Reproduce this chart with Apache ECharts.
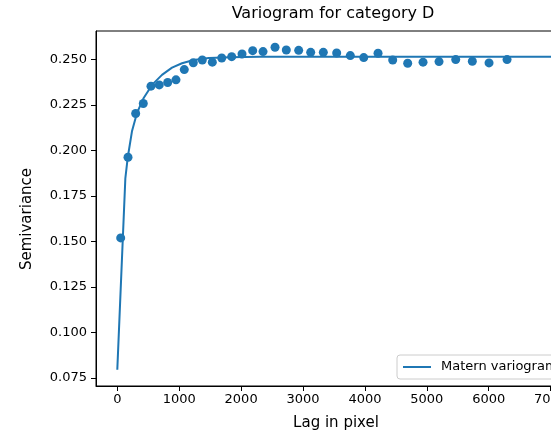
<!DOCTYPE html>
<html>
<head>
<meta charset="utf-8">
<script src="https://cdn.jsdelivr.net/npm/echarts@6/dist/echarts.min.js"></script>
<style>
  html, body { margin: 0; padding: 0; background: #fff; }
  #chart { width: 551px; height: 430px; }
</style>
</head>
<body>
<div id="chart"></div>
<script>
// Empirical semivariance per lag bin
const lagValues = [55, 173, 297, 420, 544, 678, 814, 948, 1082, 1228, 1373, 1535, 1687, 1848,
  2015, 2187, 2354, 2548, 2730, 2930, 3124, 3328, 3544, 3764, 3981, 4212, 4449, 4691, 4939,
  5197, 5467, 5735, 6005, 6296];
const semivariance = [0.1519, 0.1962, 0.2202, 0.2257, 0.2352, 0.2359, 0.2372, 0.2387, 0.2443,
  0.2481, 0.2496, 0.2484, 0.2507, 0.2514, 0.2529, 0.2547, 0.2542, 0.2566, 0.2551, 0.2549,
  0.2538, 0.2538, 0.2534, 0.2520, 0.2509, 0.2533, 0.2496, 0.2478, 0.2484, 0.2487, 0.2498,
  0.2489, 0.2480, 0.2498];

// Fitted Matern model curve
const modelLag = [0, 130, 168, 237, 318, 426, 561, 722, 884, 1045, 1234, 1477, 1821, 2305, 7200];
const modelValue = [0.0795, 0.1846, 0.1959, 0.2104, 0.2205, 0.2287, 0.2359, 0.2414, 0.2454,
  0.2478, 0.2496, 0.2507, 0.2511, 0.2513, 0.2513];

// Tick labels
const xTicks = [0, 1000, 2000, 3000, 4000, 5000, 6000, 7000];
const yTicks = [0.075, 0.100, 0.125, 0.150, 0.175, 0.200, 0.225, 0.250];

const BLUE = '#1f77b4';
const FONT = 'DejaVu Sans';

const chart = echarts.init(document.getElementById('chart'), null, { renderer: 'canvas' });

chart.setOption({
  animation: false,
  backgroundColor: '#fff',
  title: {
    text: 'Variogram for category D',
    left: 333,
    textAlign: 'center',
    top: 6,
    padding: 0,
    textStyle: { fontFamily: FONT, fontSize: 16, fontWeight: 'normal', color: '#000' }
  },
  grid: {
    left: 96, top: 31, width: 468.5, height: 355,
    outerBoundsMode: 'none',
    containLabel: false,
    show: true, borderColor: '#000', borderWidth: 1, backgroundColor: 'transparent'
  },
  legend: {
    data: [{ name: 'Matern variogram', icon: 'rect' }],
    left: 397, top: 355,
    padding: [5, 6, 5, 6],
    itemWidth: 28, itemHeight: 2,
    itemStyle: { color: BLUE },
    borderColor: '#cccccc', borderWidth: 1, borderRadius: 3,
    backgroundColor: 'rgba(255,255,255,0.8)',
    textStyle: { fontFamily: FONT, fontSize: 13, color: '#000', padding: [0, 0, 0, 5], lineHeight: 14 }
  },
  xAxis: {
    type: 'value',
    min: -344, max: 7224,
    axisLine: { show: true, onZero: false, lineStyle: { color: '#000', width: 1 } },
    axisTick: { show: true, length: 5, customValues: xTicks, lineStyle: { color: '#000' } },
    axisLabel: {
      customValues: xTicks, margin: 7,
      fontFamily: FONT, fontSize: 13, color: '#000',
      formatter: v => String(v)
    },
    splitLine: { show: false }
  },
  yAxis: {
    type: 'value',
    min: 0.0706, max: 0.2655,
    axisLine: { show: true, onZero: false, lineStyle: { color: '#000', width: 1 } },
    axisTick: { show: true, length: 5, customValues: yTicks, lineStyle: { color: '#000' } },
    axisLabel: {
      customValues: yTicks, margin: 9,
      fontFamily: FONT, fontSize: 13, color: '#000',
      formatter: v => v.toFixed(3)
    },
    splitLine: { show: false }
  },
  graphic: [
    {
      type: 'text',
      x: 27.5, y: 219,
      rotation: Math.PI / 2,
      style: {
        text: 'Semivariance',
        fontFamily: FONT, fontSize: 15, fill: '#000',
        align: 'center', verticalAlign: 'middle'
      }
    },
    {
      type: 'text',
      x: 336, y: 423,
      style: {
        text: 'Lag in pixel',
        fontFamily: FONT, fontSize: 15, fill: '#000',
        align: 'center', verticalAlign: 'middle'
      }
    }
  ],
  series: [
    {
      name: 'Matern variogram',
      type: 'line',
      data: modelLag.map((x, i) => [x, modelValue[i]]),
      symbol: 'none',
      lineStyle: { color: BLUE, width: 2 },
      itemStyle: { color: BLUE },
      z: 2
    },
    {
      name: 'Empirical',
      type: 'scatter',
      data: lagValues.map((x, i) => [x, semivariance[i]]),
      symbol: 'circle',
      symbolSize: 9,
      itemStyle: { color: BLUE, opacity: 1 },
      z: 3
    }
  ]
});
</script>
</body>
</html>
